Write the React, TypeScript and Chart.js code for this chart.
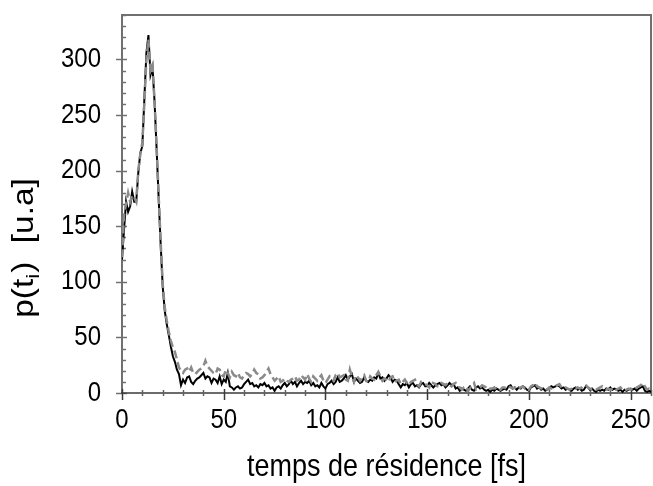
import React, { useEffect, useRef } from 'react';
import { Chart, registerables } from 'chart.js';

Chart.register(...registerables);

// time step of the samples (fs); sample i is at i * STEP_FS
const STEP_FS = 1;

const blackValues = [
  120, 147, 172, 163, 168, 181, 172, 172, 198, 216,
  222, 265, 306, 322, 286, 293, 262, 220, 176, 134,
  96, 74, 62, 52, 42, 33, 28, 21, 17, 7,
  12, 9, 14, 15, 10, 8, 11, 13, 14, 16,
  18, 13, 15, 14, 9, 13, 12, 9, 15, 8,
  12, 10, 18, 6, 5, 3, 5, 6, 4, 5,
  8, 10, 12, 8, 9, 6, 7, 5, 8, 7,
  9, 6, 7, 4, 5, 2, 5, 6, 4, 7,
  9, 6, 8, 11, 8, 10, 6, 9, 11, 8,
  10, 9, 11, 7, 9, 6, 7, 5, 9, 6,
  4, 8, 9, 11, 8, 10, 14, 10, 11, 13,
  16, 12, 15, 17, 10, 13, 11, 9, 10, 14,
  11, 10, 12, 11, 14, 13, 18, 13, 14, 11,
  13, 16, 14, 10, 12, 11, 8, 5, 8, 7,
  9, 5, 8, 9, 6, 7, 5, 8, 9, 6,
  6, 9, 7, 5, 7, 8, 9, 7, 8, 5,
  7, 9, 7, 8, 4, 5, 2, 4, 3, 2,
  4, 6, 3, 2, 5, 6, 4, 5, 3, 2,
  3, 1, 3, 2, 4, 3, 2, 3, 4, 3,
  6, 7, 4, 5, 3, 5, 4, 6, 5, 3,
  2, 5, 6, 7, 4, 5, 3, 4, 2, 3,
  4, 6, 5, 6, 7, 6, 4, 5, 3, 4,
  3, 2, 4, 5, 3, 4, 2, 3, 6, 5,
  3, 4, 2, 1, 3, 2, 3, 2, 4, 3,
  5, 3, 4, 3, 2, 3, 1, 3, 2, 3,
  4, 3, 4, 2, 4, 5, 6, 2, 1, 2, 1,
];

const grayValues = [
  122, 160, 170, 180, 172, 178, 176, 172, 200, 215,
  225, 262, 300, 318, 290, 295, 262, 222, 178, 136,
  98, 77, 65, 55, 47, 41, 37, 30, 23, 20,
  18, 21, 22, 19, 23, 18, 17, 19, 21, 22,
  24, 29, 24, 22, 20, 18, 17, 22, 21, 16,
  15, 21, 18, 14, 19, 16, 15, 18, 14, 13,
  16, 18, 17, 15, 17, 21, 18, 17, 13, 14,
  16, 19, 22, 17, 14, 11, 13, 15, 10, 11,
  13, 11, 10, 12, 13, 15, 11, 12, 16, 14,
  12, 17, 13, 10, 15, 13, 11, 14, 16, 11,
  9, 12, 15, 13, 11, 16, 18, 14, 15, 16,
  12, 11, 21, 15, 10, 16, 14, 11, 14, 16,
  11, 10, 15, 13, 12, 16, 19, 15, 11, 13,
  12, 10, 14, 15, 10, 11, 12, 8, 10, 12,
  9, 7, 10, 11, 12, 8, 6, 10, 9, 8,
  7, 5, 10, 9, 8, 6, 6, 9, 8, 7,
  9, 7, 6, 8, 9, 6, 5, 3, 5, 6,
  2, 4, 7, 9, 3, 4, 5, 7, 6, 5,
  3, 4, 4, 5, 3, 4, 3, 5, 5, 4,
  6, 5, 4, 5, 3, 4, 5, 6, 4, 5,
  3, 6, 7, 9, 6, 5, 4, 5, 4, 3,
  5, 4, 5, 6, 7, 8, 5, 4, 5, 4,
  3, 4, 5, 4, 5, 4, 5, 7, 7, 5,
  4, 3, 4, 3, 4, 5, 6, 4, 3, 4,
  3, 4, 5, 3, 4, 5, 3, 2, 3, 4,
  3, 4, 3, 5, 6, 7, 9, 6, 3, 4, 3,
];

const X_MIN = 0;
const X_MAX = 260;
const X_MAJOR = 50;
const X_MINOR = 10;
const Y_MIN = 0;
const Y_MAX = 340;
const Y_MAJOR = 50;
const Y_MINOR = 10;

const xTitle = 'temps de résidence [fs]';
const yTitleMain = 'p(t';
const yTitleSub = 'i';
const yTitleRest = ')  [u.a]';

const FONT = "'Liberation Sans', Arial, Helvetica, sans-serif";
const STRETCH = 1.15; // text in the reference is slightly taller than wide

const toPoints = (vals: number[]) => vals.map((v, i) => ({ x: i * STEP_FS, y: v }));

function drawText(ctx: CanvasRenderingContext2D, text: string, x: number, y: number,
  align: CanvasTextAlign, size: number) {
  ctx.save();
  ctx.translate(x, y);
  ctx.scale(1, STRETCH);
  ctx.font = `${size}px ${FONT}`;
  ctx.textAlign = align;
  ctx.textBaseline = 'middle';
  ctx.fillText(text, 0, 0);
  ctx.restore();
}

const framePlugin = {
  id: 'frameAndTicks',
  beforeDatasetsDraw(chart: any) {
    const { ctx, chartArea: a, scales } = chart;
    const x = scales.x;
    const y = scales.y;
    ctx.save();
    ctx.strokeStyle = '#707070';
    ctx.lineWidth = 2;
    ctx.beginPath();
    ctx.moveTo(a.left, a.bottom);
    ctx.lineTo(a.left, a.top);
    ctx.lineTo(a.right, a.top);
    ctx.lineTo(a.right, a.bottom);
    ctx.stroke();
    ctx.lineWidth = 1.5;
    for (let v = Y_MIN; v <= Y_MAX; v += Y_MINOR) {
      const py = Math.round(y.getPixelForValue(v)) + 0.5;
      ctx.beginPath();
      if (v % Y_MAJOR === 0) {
        ctx.moveTo(a.left - 6, py);
        ctx.lineTo(a.left + 5, py);
      } else {
        ctx.moveTo(a.left, py);
        ctx.lineTo(a.left + 4, py);
      }
      ctx.stroke();
    }
    ctx.strokeStyle = '#3a3a3a';
    ctx.lineWidth = 1.5;
    ctx.beginPath();
    ctx.moveTo(a.left - 1, a.bottom);
    ctx.lineTo(a.right + 1, a.bottom);
    ctx.stroke();
    for (let t = X_MIN; t <= X_MAX; t += X_MINOR) {
      const px = Math.round(x.getPixelForValue(t)) + 0.5;
      ctx.beginPath();
      if (t % X_MAJOR === 0) {
        ctx.strokeStyle = '#3a3a3a';
        ctx.moveTo(px, a.bottom - 4);
        ctx.lineTo(px, a.bottom + 7);
      } else {
        ctx.strokeStyle = '#606060';
        ctx.moveTo(px, a.bottom - 3);
        ctx.lineTo(px, a.bottom + 3);
      }
      ctx.stroke();
    }
    ctx.restore();
  },
  afterDraw(chart: any) {
    const { ctx, chartArea: a, scales } = chart;
    const x = scales.x;
    const y = scales.y;
    ctx.save();
    ctx.fillStyle = '#000';
    for (const tk of y.ticks) {
      drawText(ctx, String(tk.label), a.left - 21, y.getPixelForValue(tk.value), 'right', 24);
    }
    for (const tk of x.ticks) {
      drawText(ctx, String(tk.label), x.getPixelForValue(tk.value), a.bottom + 27, 'center', 24);
    }
    drawText(ctx, xTitle, (a.left + a.right) / 2, 467, 'center', 27);
    const mainFont = `29px ${FONT}`;
    const subFont = `19px ${FONT}`;
    ctx.font = mainFont;
    const w1 = ctx.measureText(yTitleMain).width;
    const w3 = ctx.measureText(yTitleRest).width;
    ctx.font = subFont;
    const w2 = ctx.measureText(yTitleSub).width + 1;
    const total = w1 + w2 + w3;
    ctx.translate(33, 248);
    ctx.rotate(-Math.PI / 2);
    ctx.scale(STRETCH, 1);
    ctx.textAlign = 'left';
    ctx.textBaseline = 'alphabetic';
    let cx = -total / 2;
    ctx.font = mainFont;
    ctx.fillText(yTitleMain, cx, 0);
    cx += w1;
    ctx.font = subFont;
    ctx.fillText(yTitleSub, cx, 6);
    cx += w2;
    ctx.font = mainFont;
    ctx.fillText(yTitleRest, cx, 0);
    ctx.restore();
  },
};

const zeroPadding = (s: any) => {
  s.paddingTop = 0;
  s.paddingBottom = 0;
  s.paddingLeft = 0;
  s.paddingRight = 0;
};

export default function App() {
  const ref = useRef<HTMLCanvasElement | null>(null);
  useEffect(() => {
    if (!ref.current) return;
    const chart = new Chart(ref.current, {
      type: 'line',
      data: {
        datasets: [
          {
            label: 'gray',
            data: toPoints(grayValues),
            borderColor: '#8a8a8a',
            borderWidth: 2.5,
            borderDash: [8, 4],
            pointRadius: 0,
            tension: 0,
            fill: false,
          },
          {
            label: 'black',
            data: toPoints(blackValues),
            borderColor: '#000000',
            borderWidth: 2,
            pointRadius: 0,
            tension: 0,
            fill: false,
          },
        ],
      },
      options: {
        animation: false,
        responsive: false,
        devicePixelRatio: 1,
        layout: { padding: { top: 15, right: 2, left: 0, bottom: 0 } },
        plugins: { legend: { display: false }, tooltip: { enabled: false } },
        scales: {
          x: {
            type: 'linear',
            min: X_MIN,
            max: X_MAX,
            grid: { display: false, drawTicks: false },
            border: { display: false },
            ticks: { stepSize: X_MAJOR, includeBounds: false, display: false },
            afterFit: (s: any) => { s.height = 93; zeroPadding(s); },
          },
          y: {
            type: 'linear',
            min: Y_MIN,
            max: Y_MAX,
            grid: { display: false, drawTicks: false },
            border: { display: false },
            ticks: { stepSize: Y_MAJOR, includeBounds: false, display: false },
            afterFit: (s: any) => { s.width = 122; zeroPadding(s); },
          },
        },
      },
      plugins: [framePlugin],
    });
    return () => chart.destroy();
  }, []);
  return (
    <div style={{ position: 'fixed', left: 0, top: 0, width: 653, height: 486, background: '#fff' }}>
      <canvas ref={ref} width={653} height={486} />
    </div>
  );
}
